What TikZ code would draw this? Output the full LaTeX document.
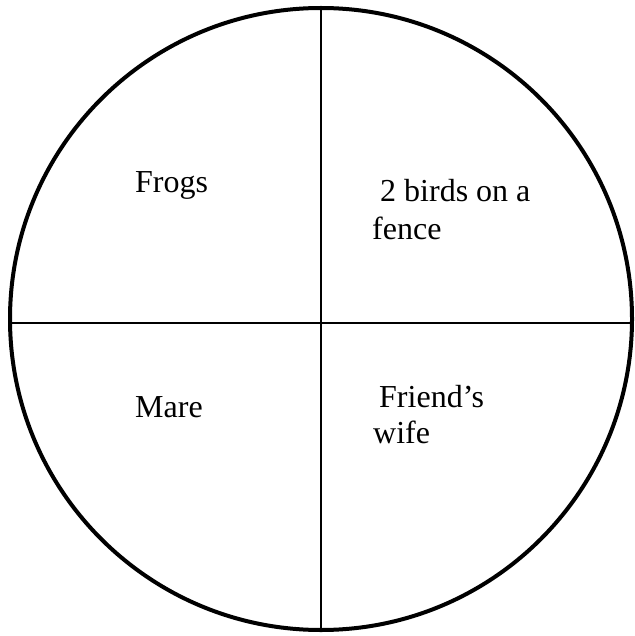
\documentclass[tikz,border=0pt]{standalone}
\usepackage{fontspec}
\setmainfont{Liberation Serif}
\begin{document}
\begin{tikzpicture}[x=1pt,y=-1pt,
  lbl/.style={anchor=base west,inner sep=0pt,font=\fontsize{32}{38}\selectfont},
  rim/.style={draw=black,line width=4pt},
  divider/.style={draw=black,line width=2pt}]
\useasboundingbox (0,0) rectangle (634,636);
\coordinate (c) at (321,319);
\coordinate (top) at (321,8);
\coordinate (bot) at (321,630);
\coordinate (lft) at (10,323);
\coordinate (rgt) at (632,323);
\draw[divider] (top) -- (bot);
\draw[divider] (lft) -- (rgt);
\draw[rim] (c) circle[radius=311];
\node[lbl] (frogs) at (135,193) {Frogs};
\node[lbl] (birdsA) at (380,202) {2 birds on a};
\node[lbl] (birdsB) at (372,239) {fence};
\node[lbl] (mare) at (135,417) {Mare};
\node[lbl] (friendA) at (379,407) {Friend’s};
\node[lbl] (friendB) at (373,443) {wife};
\end{tikzpicture}
\end{document}
